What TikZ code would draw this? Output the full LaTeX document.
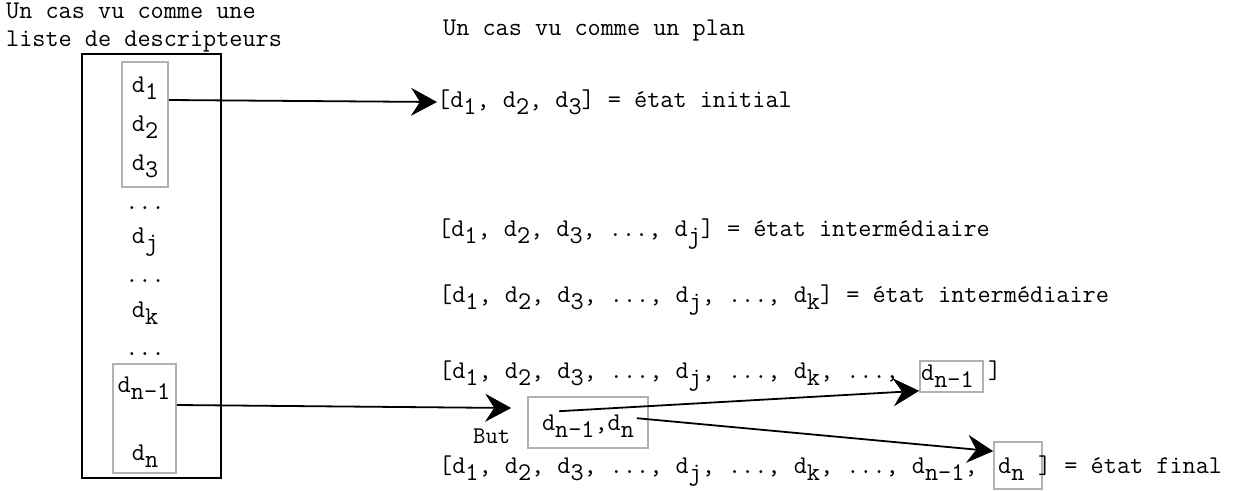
\documentclass[tikz,border=0pt]{standalone}
\usepackage{fontspec}
\usetikzlibrary{arrows.meta,fit}
\newcommand{\sbx}[1]{\raisebox{-7pt}{#1}}
\begin{document}
\begin{tikzpicture}[x=1pt,y=-1pt,
  txt/.style={inner sep=0pt, anchor=base west, font=\ttfamily\fontsize{25.5}{28}\selectfont},
  col/.style={inner sep=0pt, anchor=base, font=\ttfamily\fontsize{25.5}{28}\selectfont},
  gbox/.style={draw=black!30, line width=1.6pt, inner sep=0pt},
  bbox/.style={draw=black, line width=1.8pt, inner sep=0pt},
  arr/.style={line width=1.8pt, -{Stealth[length=26pt,width=28pt,inset=9pt]}}]
\useasboundingbox (0,0) rectangle (1234,490);
% titles
\node[txt] (t1a) at (6,18) {Un cas vu comme une};
\node[txt] (t1b) at (6,46) {liste de descripteurs};
\node[txt] (t2) at (443,35) {Un cas vu comme un plan};
% left column
\node[bbox, fit={(82,54) (221,478)}] (outer) {};
\node[col] (c1) at (145,92) {d\sbx{1}};
\node[col] (c2) at (145,131) {d\sbx{2}};
\node[col] (c3) at (145,170) {d\sbx{3}};
\node[col] (c4) at (145,209) {...};
\node[col] (c5) at (145,243) {d\sbx{j}};
\node[col] (c6) at (145,282) {...};
\node[col] (c7) at (145,317) {d\sbx{k}};
\node[col] (c8) at (145,355) {...};
\node[col] (c9) at (144,392) {d\sbx{n\textendash1}};
\node[col] (c10) at (145,460) {d\sbx{n}};
\node[gbox, fit={(122,62) (168,187)}] (box1) {};
\node[gbox, fit={(113,364) (176,473)}] (box2) {};
% rows
\node[txt] (r1) at (437,107) {[d\sbx{1}, d\sbx{2}, d\sbx{3}] = état initial};
\node[txt] (r2) at (438,236) {[d\sbx{1}, d\sbx{2}, d\sbx{3}, ..., d\sbx{j}] = état intermédiaire};
\node[txt] (r3) at (439,302) {[d\sbx{1}, d\sbx{2}, d\sbx{3}, ..., d\sbx{j}, ..., d\sbx{k}] = état intermédiaire};
\node[txt] (r4) at (439,378) {[d\sbx{1}, d\sbx{2}, d\sbx{3}, ..., d\sbx{j}, ..., d\sbx{k}, ...,};
\node[txt] (r4d) at (921,380) {d\sbx{n\textendash1}};
\node[gbox, fit={(920,361) (983,392)}] (b4) {};
\node[txt] (r4e) at (988,378) {]};
\node[txt] (r5) at (439,473) {[d\sbx{1}, d\sbx{2}, d\sbx{3}, ..., d\sbx{j}, ..., d\sbx{k}, ..., d\sbx{n\textendash1},};
\node[txt] (r5d) at (998,473) {d\sbx{n}};
\node[gbox, fit={(994,442) (1042,489)}] (b5) {};
\node[txt] (r5e) at (1038,473) {] = état final};
% goal
\node[txt, font=\ttfamily\fontsize{24}{26}\selectfont] (but) at (473,443) {But};
\node[gbox, fit={(528,397) (648,448)}] (goal) {};
\node[txt, anchor=base] (gt) at (588,430) {d\sbx{n\textendash1},d\sbx{n}};
% arrows
\draw[arr] (box1.east |- 0,100) -- (r1.west |- 0,102);
\draw[arr] (box2.east |- 0,405) -- ([xshift=-16pt]goal.west |- 0,408);
\draw[arr] ([shift={(32,15)}]goal.north west) -- ([shift={(0,-2)}]b4.south west);
\draw[arr] ([shift={(-12,22)}]goal.north east) -- ([shift={(0,10)}]b5.north west);
\end{tikzpicture}
\end{document}
